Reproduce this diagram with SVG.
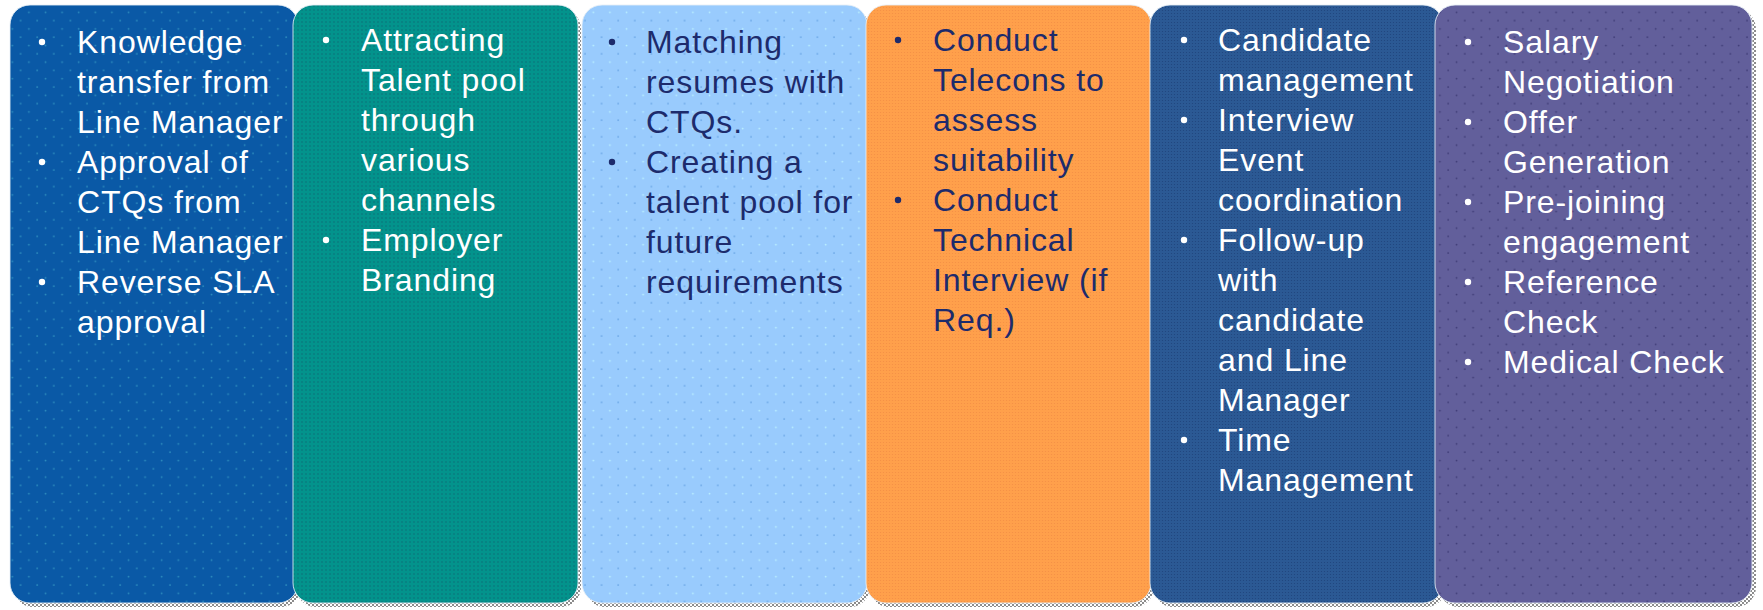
<svg xmlns="http://www.w3.org/2000/svg" width="1763" height="610" viewBox="0 0 1763 610">
<style>
.t{font-family:"Liberation Sans",Arial,sans-serif;font-size:32px;letter-spacing:0.9px}
.w{fill:#ffffff}
.n{fill:#1d2b6c}
.bw{fill:#ffffff}
.bn{fill:#1d2b6c}
.edge{stroke:#e6eef6;stroke-width:1;stroke-opacity:0.85}
.sh{fill:url(#chk)}
</style>
<defs>
<pattern id="chk" width="4" height="4" patternUnits="userSpaceOnUse">
<rect width="4" height="4" fill="#ffffff"/>
<rect width="2" height="2" fill="#8c8c8c"/>
<rect x="2" y="2" width="2" height="2" fill="#8c8c8c"/>
</pattern>
<pattern id="p1" width="16.6" height="16.6" patternUnits="userSpaceOnUse">
<rect width="16.6" height="16.6" fill="#0a59a6"/>
<circle cx="4" cy="4" r="0.9" fill="#2f8fbf"/>
<circle cx="12.3" cy="12.3" r="0.9" fill="#2f8fbf"/>
</pattern>
<pattern id="p2" width="4" height="4" patternUnits="userSpaceOnUse">
<rect width="4" height="4" fill="#03938c"/>
<circle cx="2" cy="2" r="0.8" fill="#0a6f78"/>
</pattern>
<pattern id="p3" width="16.6" height="16.6" patternUnits="userSpaceOnUse">
<rect width="16.6" height="16.6" fill="#99cbfd"/>
<circle cx="4" cy="4" r="0.9" fill="#6aa6e6"/>
<circle cx="12.3" cy="12.3" r="0.9" fill="#bdf3ff"/>
</pattern>
<pattern id="p4" width="3" height="3" patternUnits="userSpaceOnUse">
<rect width="3" height="3" fill="#ffa04b"/>
<circle cx="1.5" cy="1.5" r="0.6" fill="#f48e45"/>
</pattern>
<pattern id="p5" width="3" height="3" patternUnits="userSpaceOnUse">
<rect width="3" height="3" fill="#2b5994"/>
<circle cx="1.5" cy="1.5" r="0.6" fill="#1f447d"/>
</pattern>
<pattern id="p6" width="16.6" height="16.6" patternUnits="userSpaceOnUse">
<rect width="16.6" height="16.6" fill="#625f9b"/>
<circle cx="4" cy="4" r="0.9" fill="#3e3b76"/>
<circle cx="12.3" cy="12.3" r="0.9" fill="#3e3b76"/>
</pattern>
</defs>

<g id="shadows">
<rect class="sh" x="13" y="9" width="288" height="598" rx="20"/>
<rect class="sh" x="296" y="9" width="285" height="598" rx="20"/>
<rect class="sh" x="585" y="9" width="285" height="598" rx="20"/>
<rect class="sh" x="869" y="9" width="285" height="598" rx="20"/>
<rect class="sh" x="1153" y="9" width="293" height="598" rx="20"/>
<rect class="sh" x="1439" y="9" width="317" height="598" rx="20"/>
</g>

<g id="panel1">
<rect class="edge" x="10" y="5" width="288" height="598" rx="20" fill="url(#p1)"/>
<circle class="bw" cx="42" cy="42" r="3.2"/>
<circle class="bw" cx="42" cy="162" r="3.2"/>
<circle class="bw" cx="42" cy="282" r="3.2"/>
<text class="t w" x="77" y="53">Knowledge</text>
<text class="t w" x="77" y="93">transfer from</text>
<text class="t w" x="77" y="133">Line Manager</text>
<text class="t w" x="77" y="173">Approval of</text>
<text class="t w" x="77" y="213">CTQs from</text>
<text class="t w" x="77" y="253">Line Manager</text>
<text class="t w" x="77" y="293">Reverse SLA</text>
<text class="t w" x="77" y="333">approval</text>
</g>

<g id="panel2">
<rect class="edge" x="293" y="5" width="285" height="598" rx="20" fill="url(#p2)"/>
<circle class="bw" cx="326" cy="40" r="3.2"/>
<circle class="bw" cx="326" cy="240" r="3.2"/>
<text class="t w" x="361" y="51">Attracting</text>
<text class="t w" x="361" y="91">Talent pool</text>
<text class="t w" x="361" y="131">through</text>
<text class="t w" x="361" y="171">various</text>
<text class="t w" x="361" y="211">channels</text>
<text class="t w" x="361" y="251">Employer</text>
<text class="t w" x="361" y="291">Branding</text>
</g>

<g id="panel3">
<rect class="edge" x="582" y="5" width="285" height="598" rx="20" fill="url(#p3)"/>
<circle class="bn" cx="612" cy="42" r="3.2"/>
<circle class="bn" cx="612" cy="162" r="3.2"/>
<text class="t n" x="646" y="53">Matching</text>
<text class="t n" x="646" y="93">resumes with</text>
<text class="t n" x="646" y="133">CTQs.</text>
<text class="t n" x="646" y="173">Creating a</text>
<text class="t n" x="646" y="213">talent pool for</text>
<text class="t n" x="646" y="253">future</text>
<text class="t n" x="646" y="293">requirements</text>
</g>

<g id="panel4">
<rect class="edge" x="866" y="5" width="285" height="598" rx="20" fill="url(#p4)"/>
<circle class="bn" cx="898" cy="40" r="3.2"/>
<circle class="bn" cx="898" cy="200" r="3.2"/>
<text class="t n" x="933" y="51">Conduct</text>
<text class="t n" x="933" y="91">Telecons to</text>
<text class="t n" x="933" y="131">assess</text>
<text class="t n" x="933" y="171">suitability</text>
<text class="t n" x="933" y="211">Conduct</text>
<text class="t n" x="933" y="251">Technical</text>
<text class="t n" x="933" y="291">Interview (if</text>
<text class="t n" x="933" y="331">Req.)</text>
</g>

<g id="panel5">
<rect class="edge" x="1150" y="5" width="293" height="598" rx="20" fill="url(#p5)"/>
<circle class="bw" cx="1184" cy="40" r="3.2"/>
<circle class="bw" cx="1184" cy="120" r="3.2"/>
<circle class="bw" cx="1184" cy="240" r="3.2"/>
<circle class="bw" cx="1184" cy="440" r="3.2"/>
<text class="t w" x="1218" y="51">Candidate</text>
<text class="t w" x="1218" y="91">management</text>
<text class="t w" x="1218" y="131">Interview</text>
<text class="t w" x="1218" y="171">Event</text>
<text class="t w" x="1218" y="211">coordination</text>
<text class="t w" x="1218" y="251">Follow-up</text>
<text class="t w" x="1218" y="291">with</text>
<text class="t w" x="1218" y="331">candidate</text>
<text class="t w" x="1218" y="371">and Line</text>
<text class="t w" x="1218" y="411">Manager</text>
<text class="t w" x="1218" y="451">Time</text>
<text class="t w" x="1218" y="491">Management</text>
</g>

<g id="panel6">
<rect class="edge" x="1435" y="5" width="317" height="598" rx="20" fill="url(#p6)"/>
<circle class="bw" cx="1468" cy="42" r="3.2"/>
<circle class="bw" cx="1468" cy="122" r="3.2"/>
<circle class="bw" cx="1468" cy="202" r="3.2"/>
<circle class="bw" cx="1468" cy="282" r="3.2"/>
<circle class="bw" cx="1468" cy="362" r="3.2"/>
<text class="t w" x="1503" y="53">Salary</text>
<text class="t w" x="1503" y="93">Negotiation</text>
<text class="t w" x="1503" y="133">Offer</text>
<text class="t w" x="1503" y="173">Generation</text>
<text class="t w" x="1503" y="213">Pre-joining</text>
<text class="t w" x="1503" y="253">engagement</text>
<text class="t w" x="1503" y="293">Reference</text>
<text class="t w" x="1503" y="333">Check</text>
<text class="t w" x="1503" y="373">Medical Check</text>
</g>
</svg>
